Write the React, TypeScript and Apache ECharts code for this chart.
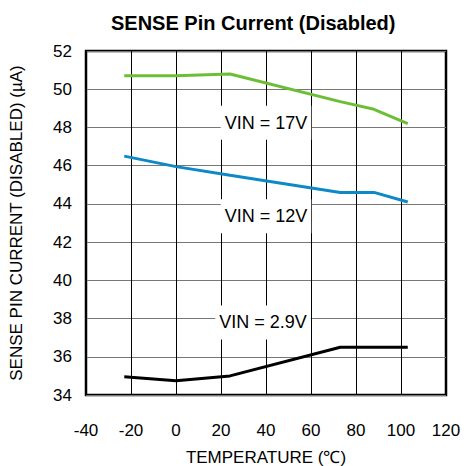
import React, { useEffect, useRef } from "react";
import * as echarts from "echarts";

const temperatures = [-23, 0, 24, 73, 88, 103];
const vin17 = [50.7, 50.7, 50.8, 49.35, 48.95, 48.2];
const vin12 = [46.5, 45.95, 45.5, 44.6, 44.6, 44.1];
const vin29 = [34.95, 34.75, 35.0, 36.5, 36.5, 36.5];

const seriesNames = ["VIN = 17V", "VIN = 12V", "VIN = 2.9V"];
const seriesColors = ["#6cbf35", "#0d8ac6", "#000000"];
const labelCoords: [number, number][] = [
  [40, 48.25],
  [40, 43.35],
  [38.7, 37.8],
];

const FONT = "'Liberation Sans', Arial, Helvetica, sans-serif";

export default function App() {
  const ref = useRef<HTMLDivElement>(null);
  useEffect(() => {
    if (!ref.current) return;
    const chart = echarts.init(ref.current, undefined, { renderer: "svg" });
    const all = [vin17, vin12, vin29];
    chart.setOption({
      animation: false,
      backgroundColor: "#ffffff",
      textStyle: { fontFamily: FONT },
      title: {
        text: "SENSE Pin Current (Disabled)",
        left: 106,
        top: 8,
        textStyle: { fontFamily: FONT, fontSize: 20, fontWeight: "bold", color: "#000" },
      },
      grid: {
        left: 86,
        right: 18,
        top: 51,
        bottom: 71,
        show: true,
        borderColor: "#000",
        borderWidth: 2.5,
        backgroundColor: "transparent",
        containLabel: false,
        outerBoundsMode: "none",
      },
      xAxis: {
        type: "value",
        min: -40,
        max: 120,
        interval: 20,
        name: "TEMPERATURE (℃)",
        nameLocation: "middle",
        nameGap: 54,
        nameTextStyle: { fontFamily: FONT, fontSize: 17, color: "#000" },
        axisLine: { show: false },
        axisTick: { show: false },
        axisLabel: { fontFamily: FONT, fontSize: 17, color: "#000", margin: 27 },
        splitLine: { show: true, lineStyle: { color: "#000", width: 1 } },
      },
      yAxis: {
        type: "value",
        min: 34,
        max: 52,
        interval: 2,
        name: "SENSE PIN CURRENT (DISABLED) (µA)",
        nameLocation: "middle",
        nameGap: 61,
        nameTextStyle: { fontFamily: FONT, fontSize: 17, color: "#000" },
        axisLine: { show: false },
        axisTick: { show: false },
        axisLabel: { fontFamily: FONT, fontSize: 17, color: "#000", margin: 14 },
        splitLine: { show: true, lineStyle: { color: "#777", width: 1 } },
      },
      series: all.map((vals, i) => ({
        type: "line",
        name: seriesNames[i],
        data: temperatures.map((t, j) => [t, vals[j]]),
        showSymbol: false,
        symbol: "none",
        lineStyle: { color: seriesColors[i], width: 3 },
        itemStyle: { color: seriesColors[i] },
        markPoint: {
          symbol: "rect",
          symbolSize: 1,
          itemStyle: { color: "rgba(0,0,0,0)" },
          label: {
            show: true,
            position: "inside",
            formatter: seriesNames[i],
            fontFamily: FONT,
            fontSize: 18,
            color: "#000",
            backgroundColor: "#fff",
            padding: [8, 4],
          },
          data: [{ coord: labelCoords[i] }],
        },
      })),
    });
    return () => chart.dispose();
  }, []);
  return (
    <div
      ref={ref}
      style={{ position: "fixed", left: 0, top: 0, width: 464, height: 466 }}
    />
  );
}
